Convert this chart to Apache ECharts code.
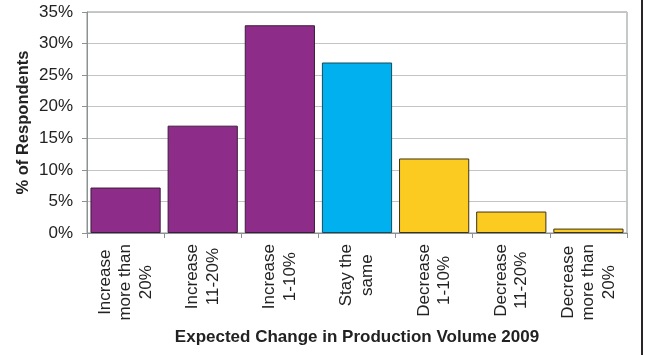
<!DOCTYPE html>
<html>
<head>
<meta charset="utf-8">
<script src="https://cdn.jsdelivr.net/npm/echarts@6/dist/echarts.min.js"></script>
<style>
html,body{margin:0;padding:0;background:#fff;}
#chart{width:648px;height:355px;}
</style>
</head>
<body>
<div id="chart"></div>
<script>
const categories = [
  "Increase\nmore than\n20%",
  "Increase\n11-20%",
  "Increase\n1-10%",
  "Stay the\nsame",
  "Decrease\n1-10%",
  "Decrease\n11-20%",
  "Decrease\nmore than\n20%"
];
const values = [7.2, 17.0, 32.9, 27.0, 11.8, 3.4, 0.7];
const yTicks = [0, 5, 10, 15, 20, 25, 30, 35];
const xTitle = "Expected Change in Production Volume 2009";
const yTitle = "% of Respondents";

const fills = ["#8E2C8A", "#8E2C8A", "#8E2C8A", "#00B0EF", "#FBCB22", "#FBCB22", "#FBCB22"];
const borders = ["#3c1c3c", "#3c1c3c", "#3c1c3c", "#154a5c", "#3e321a", "#3e321a", "#3e321a"];

const FONT = "'Liberation Sans', Arial, sans-serif";
const chart = echarts.init(document.getElementById('chart'), null, {renderer: 'canvas'});
chart.setOption({
  animation: false,
  backgroundColor: '#fff',
  grid: {left: 87, right: 21, top: 12, bottom: 122, show: true, borderColor: '#8a9292', borderWidth: 1},
  xAxis: {
    type: 'category',
    data: categories,
    name: xTitle,
    nameLocation: 'middle',
    nameGap: 96,
    nameMoveOverlap: false,
    nameTextStyle: {fontFamily: FONT, fontSize: 17, fontWeight: 'bold', color: '#222'},
    axisLine: {lineStyle: {color: '#8a9292', width: 1}},
    axisTick: {show: true, length: 5, lineStyle: {color: '#8a9292'}, alignWithLabel: false},
    axisLabel: {
      interval: 0,
      rotate: 90,
      margin: 11,
      fontFamily: FONT,
      fontSize: 17,
      color: '#222',
      formatter: v => v.split('\n').map(s => '{c|' + s + '}').join('\n'),
      rich: {c: {align: 'center', fontFamily: FONT, fontSize: 17, lineHeight: 20.5, color: '#222'}}
    }
  },
  yAxis: {
    type: 'value',
    min: 0, max: 35, interval: 5,
    name: yTitle,
    nameLocation: 'middle',
    nameGap: 55,
    nameMoveOverlap: false,
    nameTextStyle: {fontFamily: FONT, fontSize: 16.5, fontWeight: 'bold', color: '#222'},
    axisLine: {show: true, lineStyle: {color: '#8a9292', width: 1}},
    axisTick: {show: true, length: 5, lineStyle: {color: '#8a9292'}},
    axisLabel: {
      margin: 14,
      fontFamily: FONT,
      fontSize: 17,
      color: '#222',
      formatter: v => yTicks.includes(v) ? v + '%' : ''
    },
    splitLine: {show: true, lineStyle: {color: '#c4c4c4', width: 1}}
  },
  series: [{
    type: 'bar',
    data: values.map((v, i) => ({value: v, itemStyle: {color: fills[i], borderColor: borders[i], borderWidth: 1}})),
    barCategoryGap: '9%'
  }],
  graphic: [{
    type: 'line',
    shape: {x1: 642, y1: 0, x2: 642, y2: 355},
    style: {stroke: '#2a2526', lineWidth: 2}
  }]
});
</script>
</body>
</html>
